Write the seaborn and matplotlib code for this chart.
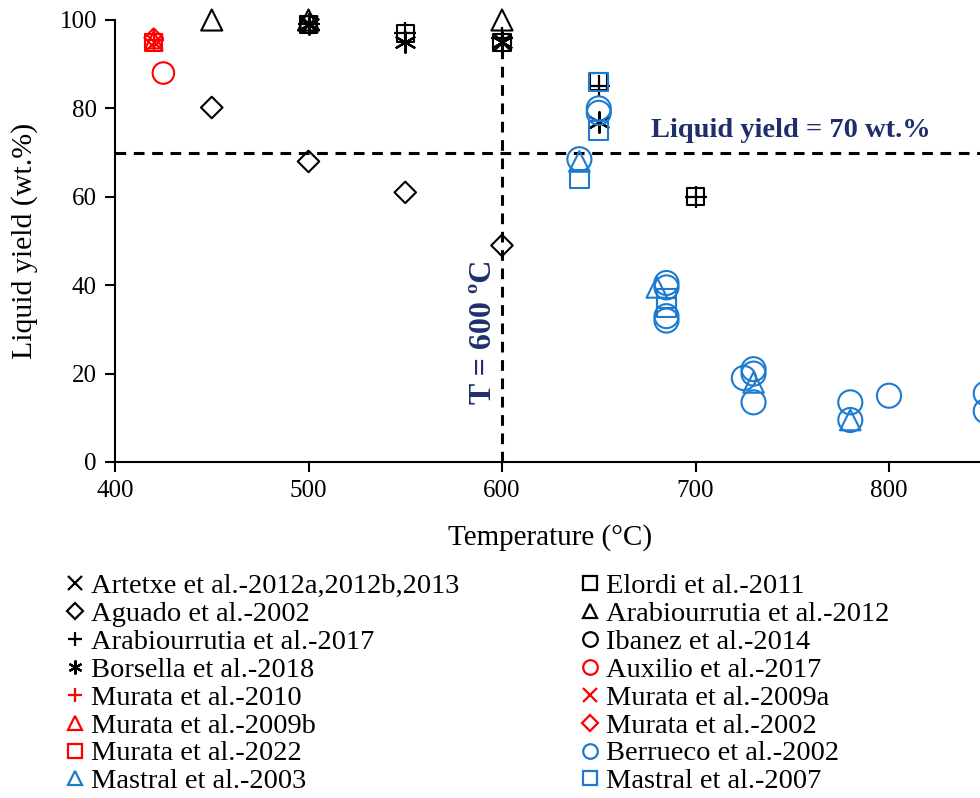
import matplotlib
matplotlib.use("Agg")
import matplotlib.pyplot as plt
from matplotlib.lines import Line2D
import seaborn as sns
import pandas as pd

sns.set_theme(style="ticks")
plt.rcParams["font.family"] = ["Liberation Serif", "DejaVu Serif"]
plt.rcParams["text.color"] = "black"
plt.rcParams["axes.labelcolor"] = "black"

BLACK = "#000000"
RED = "#FF0000"
BLUE = "#1C7AD0"
NAVY = "#1F2F6B"

# --- data: temperature (°C) and liquid yield (wt.%) per study ---
artetxe_t = [500, 600]
artetxe_y = [99, 95]
aguado_t = [450, 500, 550, 600]
aguado_y = [80.2, 68, 61, 49]
arab2017_t = [500, 550, 600, 650, 700]
arab2017_y = [99, 97, 96, 85, 60]
borsella_t = [500, 550, 600, 650]
borsella_y = [99, 95, 95, 77]
murata2010_t = [420]
murata2010_y = [95.5]
murata2009b_t = [420]
murata2009b_y = [95.5]
murata2022_t = [420]
murata2022_y = [95]
mastral2003_t = [640, 680, 730, 780]
mastral2003_y = [68, 39.5, 18, 9.5]

elordi_t = [500, 550, 600, 650, 700]
elordi_y = [99, 97, 95, 86, 60]
arab2012_t = [450, 500, 600]
arab2012_y = [100, 100, 100]
ibanez_t = [500]
ibanez_y = [99]
auxilio_t = [425]
auxilio_y = [88]
murata2009a_t = [420]
murata2009a_y = [95]
murata2002_t = [420]
murata2002_y = [96]
berrueco_t = [640, 650, 650, 685, 685, 685, 685, 725, 730, 730, 730, 780, 780, 800, 850, 850]
berrueco_y = [68.5, 80, 79, 40.5, 39.5, 33, 32, 19, 21, 20, 13.5, 13.5, 9.5, 15, 15.5, 11.5]
mastral2007_t = [640, 650, 650, 685, 685]
mastral2007_y = [64, 75, 86, 37, 35]

ASTERISK = (6, 2, 0)

# (label, temps, yields, marker, colour, size)
left_col = [
    ("Artetxe et al.-2012a,2012b,2013", artetxe_t, artetxe_y, "x", BLACK, 150),
    ("Aguado et al.-2002", aguado_t, aguado_y, "D", BLACK, 120),
    ("Arabiourrutia et al.-2017", arab2017_t, arab2017_y, "+", BLACK, 260),
    ("Borsella et al.-2018", borsella_t, borsella_y, ASTERISK, BLACK, 220),
    ("Murata et al.-2010", murata2010_t, murata2010_y, "+", RED, 200),
    ("Murata et al.-2009b", murata2009b_t, murata2009b_y, "^", RED, 150),
    ("Murata et al.-2022", murata2022_t, murata2022_y, "s", RED, 150),
    ("Mastral et al.-2003", mastral2003_t, mastral2003_y, "^", BLUE, 220),
]
right_col = [
    ("Elordi et al.-2011", elordi_t, elordi_y, "s", BLACK, 150),
    ("Arabiourrutia et al.-2012", arab2012_t, arab2012_y, "^", BLACK, 230),
    ("Ibanez et al.-2014", ibanez_t, ibanez_y, "o", BLACK, 150),
    ("Auxilio et al.-2017", auxilio_t, auxilio_y, "o", RED, 240),
    ("Murata et al.-2009a", murata2009a_t, murata2009a_y, "x", RED, 150),
    ("Murata et al.-2002", murata2002_t, murata2002_y, "D", RED, 90),
    ("Berrueco et al.-2002", berrueco_t, berrueco_y, "o", BLUE, 300),
    ("Mastral et al.-2007", mastral2007_t, mastral2007_y, "s", BLUE, 180),
]

LINE_MARKERS = {"x", "+", ASTERISK}

fig = plt.figure(figsize=(9.8, 7.98), dpi=100)
ax = fig.add_axes([115 / 980, 336 / 798, 967.5 / 980, 442 / 798])

for label, t, y, mk, c, s in left_col + right_col:
    df = pd.DataFrame({"T": t, "Y": y})
    if mk in LINE_MARKERS:
        sns.scatterplot(data=df, x="T", y="Y", marker=mk, s=s, color=c,
                        linewidth=1.6, ax=ax, legend=False, zorder=3,
                        clip_on=False)
    else:
        sns.scatterplot(data=df, x="T", y="Y", marker=mk, s=s, color=c,
                        facecolor="none", edgecolor=c, linewidth=1.5,
                        ax=ax, legend=False, zorder=3, clip_on=False)

# reference lines
ax.axhline(70, color="black", lw=2.2, ls=(0, (3.5, 2.5)), zorder=2)
ax.plot([600, 600], [0, 97], color="black", lw=2.2, ls=(0, (3.5, 2.5)), zorder=2)
ax.text(677, 75, "Liquid yield = 70 wt.%", color=NAVY, fontsize=20.5,
        fontweight="bold", ha="left", va="center")
ax.text(590.5, 29.4, "T = 600 ºC", color=NAVY, fontsize=23, fontweight="bold",
        rotation=90, ha="center", va="center")

ax.set_xlim(400, 900)
ax.set_ylim(0, 100)
ax.set_xticks([400, 500, 600, 700, 800])
ax.set_yticks([0, 20, 40, 60, 80, 100])
ax.tick_params(axis="both", labelsize=18, length=7, width=1.5, direction="out",
               colors="black", pad=6)
for side in ("top", "right"):
    ax.spines[side].set_visible(False)
for side in ("left", "bottom"):
    ax.spines[side].set_linewidth(1.5)
    ax.spines[side].set_color("black")
ax.set_xlabel("Temperature (°C)", fontsize=21)
ax.xaxis.set_label_coords(435 / 967.5, -0.14)
ax.set_ylabel("Liquid yield (wt.%)", fontsize=21.5)
ax.yaxis.label.set_verticalalignment("center")
ax.yaxis.set_label_coords(-90 / 967.5, 0.5)


def handles_for(entries):
    hs = []
    for label, t, y, mk, c, s in entries:
        if mk in LINE_MARKERS:
            h = Line2D([], [], ls="none", marker=mk, color=c, markersize=10,
                       markeredgewidth=1.6, label=label)
        else:
            ms = 8 if mk == "D" else 10.5
            h = Line2D([], [], ls="none", marker=mk, markerfacecolor="none",
                       markeredgecolor=c, markersize=ms, markeredgewidth=1.6,
                       label=label)
        hs.append(h)
    return hs


legend_kw = dict(loc="upper left", frameon=False, fontsize=20.5, handlelength=0.7,
                 handletextpad=0.2, labelspacing=0.07, borderaxespad=0,
                 borderpad=0, labelcolor="black")
fig.legend(handles=handles_for(left_col), bbox_to_anchor=(65 / 980, 1 - 573 / 798),
           **legend_kw)
fig.legend(handles=handles_for(right_col), bbox_to_anchor=(580 / 980, 1 - 573 / 798),
           **legend_kw)

fig.savefig("out.png", dpi=100)
